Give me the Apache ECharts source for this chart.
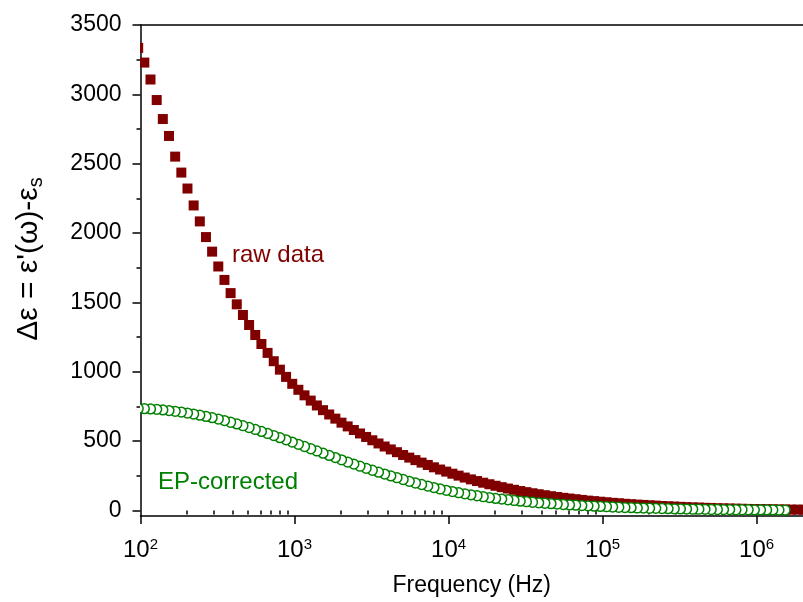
<!DOCTYPE html>
<html><head><meta charset="utf-8">
<script src="https://cdn.jsdelivr.net/npm/echarts@6/dist/echarts.min.js"></script>
<style>html,body{margin:0;padding:0;background:#fff}#c{width:803px;height:602px}</style>
</head><body><div id="c"></div>
<script>
// Frequency sweep (Hz), one entry per measured point
const frequencyHz = [
  96.6, 105.9, 116.1, 127.4, 139.6, 153.1, 167.9, 184.1, 201.8, 221.3, 242.7, 266.1, 291.7, 319.9, 350.8, 384.6, 421.7, 462.4, 507.0, 555.9, 609.5, 668.3, 732.8, 803.5, 881.1,
  966.1, 1059, 1161, 1274, 1396, 1531, 1679, 1841, 2018, 2213, 2427, 2661, 2917, 3199, 3508, 3846, 4217, 4624, 5070, 5559, 6095, 6683, 7328, 8036, 8811,
  9661, 10593, 11614, 12735, 13964, 15311, 16788, 18408, 20184, 22131, 24266, 26607, 29174, 31989, 35075, 38459, 42170, 46238, 50699, 55590, 60954, 66834, 73282, 80353, 88105,
  96605, 105930, 116140, 127350, 139640, 153110, 167880, 184080, 201840, 221310, 242660, 266070, 291740, 319890, 350750, 384590, 421700, 462380, 506990, 555900, 609540, 668340, 732820, 803530, 881050,
  966050, 1059300, 1161400, 1273500, 1396400, 1531100, 1678800, 1840800, 2018400
];
// raw data: Δε values
const rawData = [
  3335, 3229, 3107, 2959, 2822, 2700, 2551, 2436, 2321, 2199, 2084, 1971, 1866, 1759, 1662, 1567, 1486, 1409, 1337, 1265, 1200, 1136, 1076, 1015, 963,
  913, 870, 830, 792, 757, 723, 692, 662, 633, 606, 580, 555, 530, 506, 483, 461, 440, 420, 400, 381, 363, 345, 328, 311, 295,
  280, 265, 251, 237, 224, 212, 200, 189, 178, 168, 158, 149, 140, 132, 124, 117, 110, 103, 97, 91, 86, 81, 76, 71, 67,
  63, 59, 55, 52, 48, 45, 42, 40, 37, 35, 32, 30, 28, 26, 24, 22, 21, 19, 18, 16, 15, 14, 13, 12, 11,
  10, 9, 9, 8, 7, 7, 6, 6, 5
];
// EP-corrected: Δε values
const epCorrected = [
  735, 734, 732, 729, 725, 720, 715, 709, 702, 695, 687, 678, 669, 659, 648, 636, 624, 611, 598, 584, 570, 555, 540, 525, 509,
  493, 477, 461, 445, 429, 413, 397, 381, 365, 349, 334, 319, 304, 290, 276, 262, 249, 236, 223, 210, 198, 187, 176, 165, 155,
  145, 136, 128, 120, 113, 106, 99, 93, 87, 82, 77, 72, 67, 63, 59, 55, 52, 49, 46, 43, 40, 38, 35, 33, 31,
  29, 27, 25, 23, 21, 20, 18, 17, 16, 15, 14, 13, 12, 11, 10, 9, 9, 8, 7, 7, 6, 6, 5, 5, 5,
  4, 4, 4, 4, 3, 3
];
const xMajorTicks = [1e2, 1e3, 1e4, 1e5, 1e6];
const xMinorTicks = [
  200, 300, 400, 500, 600, 700, 800, 900,
  2000, 3000, 4000, 5000, 6000, 7000, 8000, 9000,
  20000, 30000, 40000, 50000, 60000, 70000, 80000, 90000,
  200000, 300000, 400000, 500000, 600000, 700000, 800000, 900000
];
const yTickLabels = [0, 500, 1000, 1500, 2000, 2500, 3000, 3500];
const yMinorTicks = [250, 750, 1250, 1750, 2250, 2750, 3250];
const seriesNames = ['raw data', 'EP-corrected'];

const FONT = 'Arial, "Liberation Sans", sans-serif';
const rawPairs = [];
for (let i = 0; i < rawData.length; i++) rawPairs.push([frequencyHz[i], rawData[i]]);
const epPairs = [];
for (let i = epCorrected.length - 1; i >= 0; i--) epPairs.push([frequencyHz[i], epCorrected[i]]);

function renderSquare(params, api) {
  const p = api.coord([api.value(0), api.value(1)]);
  return { type: 'rect', shape: { x: p[0] - 5, y: p[1] - 5, width: 10, height: 10 }, style: { fill: '#800000' } };
}
function renderCircle(params, api) {
  const p = api.coord([api.value(0), api.value(1)]);
  return { type: 'circle', shape: { cx: p[0], cy: p[1], r: 4.9 }, style: { fill: '#fff', stroke: '#008000', lineWidth: 1.5 } };
}

const axisLineStyle = { color: '#000', width: 1.5 };
const chart = echarts.init(document.getElementById('c'), null, { renderer: 'canvas' });
chart.setOption({
  animation: false,
  backgroundColor: '#fff',
  grid: { left: 140.5, right: -1, top: 25, bottom: 84.5, containLabel: false },
  xAxis: [
    {
      type: 'log', logBase: 10, min: 100, max: 2e6, position: 'bottom',
      axisLine: { show: true, onZero: false, lineStyle: axisLineStyle },
      axisTick: { show: true, inside: false, length: 8, customValues: xMajorTicks, lineStyle: axisLineStyle },
      axisLabel: {
        show: true, customValues: xMajorTicks, margin: 21,
        formatter: function (v) { return '{b|10}{s|' + Math.round(Math.log10(v)) + '}'; },
        rich: {
          b: { fontSize: 24, fontFamily: FONT, color: '#000', lineHeight: 26 },
          s: { fontSize: 15, fontFamily: FONT, color: '#000', verticalAlign: 'top', lineHeight: 14 }
        }
      },
      splitLine: { show: false },
      name: 'Frequency (Hz)', nameLocation: 'middle', nameGap: 58,
      nameTextStyle: { fontSize: 23, fontFamily: FONT, color: '#000' }
    },
    {
      type: 'log', logBase: 10, min: 100, max: 2e6, position: 'bottom',
      axisLine: { show: false },
      axisTick: { show: true, inside: false, length: 4, customValues: xMinorTicks, lineStyle: axisLineStyle },
      axisLabel: { show: false },
      splitLine: { show: false }
    },
    {
      type: 'log', logBase: 10, min: 100, max: 2e6, position: 'top',
      axisLine: { show: true, onZero: false, lineStyle: axisLineStyle },
      axisTick: { show: false }, axisLabel: { show: false }, splitLine: { show: false }
    }
  ],
  yAxis: [
    {
      type: 'value', min: -40, max: 3500, position: 'left',
      axisLine: { show: true, onZero: false, lineStyle: axisLineStyle },
      axisTick: { show: true, inside: false, length: 8, customValues: yTickLabels, lineStyle: axisLineStyle },
      axisLabel: {
        show: true, customValues: yTickLabels, fontSize: 23, fontFamily: FONT, color: '#000', margin: 19,
        formatter: function (v) { return String(v); }
      },
      splitLine: { show: false }
    },
    {
      type: 'value', min: -40, max: 3500, position: 'left',
      axisLine: { show: false },
      axisTick: { show: true, inside: false, length: 4, customValues: yMinorTicks, lineStyle: axisLineStyle },
      axisLabel: { show: false }, splitLine: { show: false }
    }
  ],
  series: [
    {
      type: 'custom', name: seriesNames[0], xAxisIndex: 0, yAxisIndex: 0,
      renderItem: renderSquare, clip: true, z: 2,
      encode: { x: 0, y: 1 },
      data: rawPairs
    },
    {
      type: 'custom', name: seriesNames[1], xAxisIndex: 0, yAxisIndex: 0,
      renderItem: renderCircle, clip: true, z: 3,
      encode: { x: 0, y: 1 },
      data: epPairs
    }
  ],
  graphic: [
    { type: 'text', x: 232, y: 255, style: { text: seriesNames[0], fill: '#800000', fontSize: 24, fontFamily: FONT, align: 'left', verticalAlign: 'middle' } },
    { type: 'text', x: 158, y: 482, style: { text: seriesNames[1], fill: '#008000', fontSize: 24, fontFamily: FONT, align: 'left', verticalAlign: 'middle' } },
    {
      type: 'text', x: 29, y: 259, rotation: Math.PI / 2,
      style: {
        text: "{m|Δε = ε'(ω)-ε}{s|s}", align: 'center', verticalAlign: 'middle',
        rich: {
          m: { fontSize: 30, fontFamily: FONT, fill: '#000', lineHeight: 34 },
          s: { fontSize: 20, fontFamily: FONT, fill: '#000', verticalAlign: 'bottom', lineHeight: 12 }
        }
      }
    }
  ]
});
</script>
</body></html>
